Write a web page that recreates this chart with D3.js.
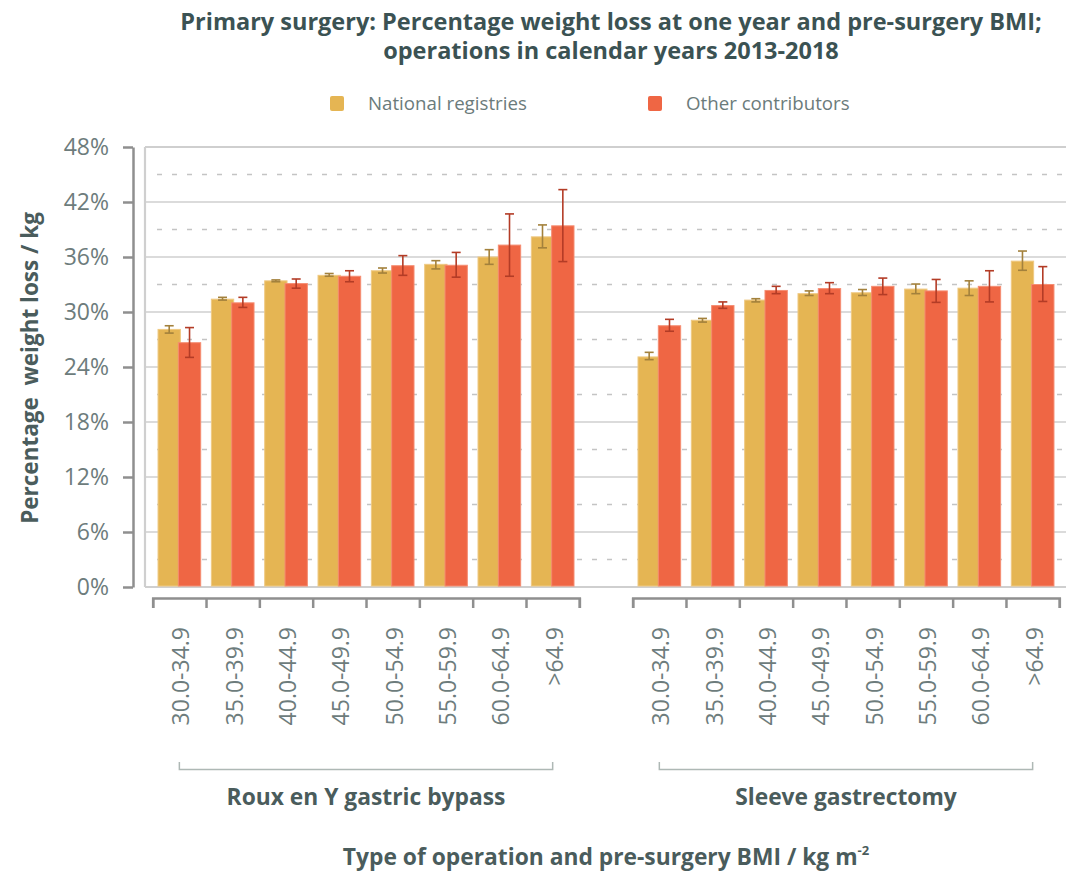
<!DOCTYPE html>
<html>
<head>
<meta charset="utf-8">
<script src="https://cdn.jsdelivr.net/npm/d3@7"></script>
<style>
  body { margin: 0; background: #fff; }
  svg { display: block; font-family: "Open Sans", sans-serif; }
</style>
</head>
<body>
<svg id="chart" width="1066" height="873"></svg>
<script>
// categories
const operations = ["Roux en Y gastric bypass", "Sleeve gastrectomy"];
const bmiBands = ["30.0-34.9", "35.0-39.9", "40.0-44.9", "45.0-49.9", "50.0-54.9", "55.0-59.9", "60.0-64.9", ">64.9"];
const seriesNames = ["National registries", "Other contributors"];

// Roux en Y gastric bypass (% weight loss, with 95% CI)
const rygbNational = [28.1, 31.4, 33.4, 34.0, 34.5, 35.2, 36.0, 38.2];
const rygbNationalLo = [27.7, 31.3, 33.3, 33.9, 34.25, 34.7, 35.2, 37.0];
const rygbNationalHi = [28.5, 31.6, 33.5, 34.2, 34.8, 35.6, 36.8, 39.5];
const rygbOther = [26.65, 31.0, 33.1, 33.9, 35.05, 35.1, 37.3, 39.4];
const rygbOtherLo = [25.05, 30.5, 32.6, 33.3, 34.0, 33.8, 33.9, 35.5];
const rygbOtherHi = [28.3, 31.6, 33.6, 34.5, 36.15, 36.5, 40.7, 43.35];

// Sleeve gastrectomy
const sleeveNational = [25.1, 29.1, 31.3, 32.0, 32.1, 32.5, 32.6, 35.55];
const sleeveNationalLo = [24.8, 28.9, 31.1, 31.8, 31.8, 32.0, 31.8, 34.55];
const sleeveNationalHi = [25.6, 29.3, 31.45, 32.3, 32.45, 33.05, 33.4, 36.65];
const sleeveOther = [28.5, 30.7, 32.35, 32.55, 32.8, 32.3, 32.8, 33.0];
const sleeveOtherLo = [27.9, 30.4, 32.0, 32.0, 31.9, 31.05, 31.1, 31.15];
const sleeveOtherHi = [29.2, 31.1, 32.8, 33.2, 33.7, 33.55, 34.5, 34.95];

const yTicks = [0, 6, 12, 18, 24, 30, 36, 42, 48];
const yMinor = [3, 9, 15, 21, 27, 33, 39, 45];

const colors = ["#e5b553", "#ef6644"];
const strokes = ["#efc983", "#f58d72"];
const errColors = ["#a3813c", "#b33c26"];

// build rows for the bars
const groups = [
  { op: operations[0], vals: [[rygbNational, rygbNationalLo, rygbNationalHi], [rygbOther, rygbOtherLo, rygbOtherHi]] },
  { op: operations[1], vals: [[sleeveNational, sleeveNationalLo, sleeveNationalHi], [sleeveOther, sleeveOtherLo, sleeveOtherHi]] }
];
const slots = [];
groups.forEach((g, gi) => {
  if (gi > 0) slots.push("gap" + gi);
  bmiBands.forEach((b) => slots.push(g.op + "|" + b));
});
const rows = [];
groups.forEach((g) => {
  bmiBands.forEach((b, i) => {
    g.vals.forEach((v, s) => {
      rows.push({ slot: g.op + "|" + b, s: s, value: v[0][i], lo: v[1][i], hi: v[2][i] });
    });
  });
});

const svg = d3.select("#chart");
const plotLeft = 145, plotRight = 1066;

const y = d3.scaleLinear().domain([0, 48]).range([587, 147]);
const x = d3.scaleBand().domain(slots).range([152.7, 1059.3]).paddingInner(0.2).paddingOuter(0.1);
const bw = x.bandwidth();
const barW = bw / 2 + 1;
const barX = (d) => x(d.slot) + (d.s === 0 ? 0 : bw - barW);

// title
svg.append("g")
  .attr("fill", "#3b5253")
  .attr("font-weight", 700)
  .attr("font-size", 23.5)
  .attr("text-anchor", "middle")
  .selectAll("text")
  .data(["Primary surgery: Percentage weight loss at one year and pre-surgery BMI;", "operations in calendar years 2013-2018"])
  .join("text")
  .attr("x", 611)
  .attr("y", (d, i) => 30 + i * 29)
  .text((d) => d);

// legend
const legendX = [330, 648];
const legend = svg.append("g")
  .selectAll("g")
  .data(seriesNames)
  .join("g")
  .attr("transform", (d, i) => `translate(${legendX[i]},96)`);
legend.append("rect")
  .attr("width", 14).attr("height", 15).attr("rx", 2)
  .attr("fill", (d, i) => colors[i]);
legend.append("text")
  .attr("x", 38).attr("y", 14)
  .attr("font-size", 18.7)
  .attr("fill", "#6b7b7b")
  .text((d) => d);

// gridlines
svg.append("g")
  .selectAll("line")
  .data(yMinor)
  .join("line")
  .attr("x1", plotLeft + 12).attr("x2", plotRight)
  .attr("y1", (d) => y(d)).attr("y2", (d) => y(d))
  .attr("stroke", "#c4c4c4")
  .attr("stroke-width", 1.3)
  .attr("stroke-dasharray", "5,10");

svg.append("g")
  .selectAll("line")
  .data(yTicks)
  .join("line")
  .attr("x1", plotLeft).attr("x2", plotRight)
  .attr("y1", (d) => y(d)).attr("y2", (d) => y(d))
  .attr("stroke", "#cfcfcf")
  .attr("stroke-width", (d) => (d === 0 || d === 48 ? 2.2 : 1.5));

svg.append("line")
  .attr("x1", plotLeft).attr("x2", plotLeft)
  .attr("y1", y(48)).attr("y2", y(0))
  .attr("stroke", "#cfcfcf")
  .attr("stroke-width", 2.2);

// bars
svg.append("g")
  .selectAll("rect")
  .data(rows)
  .join("rect")
  .attr("x", barX)
  .attr("y", (d) => y(d.value))
  .attr("width", barW)
  .attr("height", (d) => y(0) - y(d.value) - 1)
  .attr("fill", (d) => colors[d.s])
  .attr("stroke", (d) => strokes[d.s])
  .attr("stroke-width", 1);

// error bars
const err = svg.append("g")
  .selectAll("g")
  .data(rows)
  .join("g")
  .attr("stroke", (d) => errColors[d.s])
  .attr("stroke-width", 1.6)
  .attr("transform", (d) => `translate(${barX(d) + barW / 2},0)`);
err.append("line").attr("y1", (d) => y(d.lo)).attr("y2", (d) => y(d.hi));
err.append("line").attr("x1", -4.5).attr("x2", 4.5).attr("y1", (d) => y(d.hi)).attr("y2", (d) => y(d.hi));
err.append("line").attr("x1", -4.5).attr("x2", 4.5).attr("y1", (d) => y(d.lo)).attr("y2", (d) => y(d.lo));

// y axis
const yAxis = svg.append("g")
  .attr("transform", "translate(133,0)")
  .call(d3.axisLeft(y).tickValues(yTicks).tickFormat((d) => d + "%").tickSize(10).tickSizeOuter(0).tickPadding(14));
yAxis.select(".domain").attr("stroke", "#8f8f8f").attr("stroke-width", 2.5);
yAxis.selectAll(".tick line").attr("stroke", "#8f8f8f").attr("stroke-width", 2.5);
yAxis.selectAll(".tick text")
  .attr("font-family", "Open Sans, sans-serif")
  .attr("font-size", 23)
  .attr("fill", "#6d7c7c");

svg.append("text")
  .attr("transform", "translate(38,368) rotate(-90)")
  .attr("text-anchor", "middle")
  .attr("font-size", 22.5)
  .attr("font-weight", 700)
  .attr("fill", "#4a5c5c")
  .style("white-space", "pre")
  .text("Percentage  weight loss / kg");

// x axis, one per operation
groups.forEach((g) => {
  const names = bmiBands.map((b) => g.op + "|" + b);
  const x0 = x(names[0]) - x.step() * x.paddingInner() / 2;
  const x1 = x(names[names.length - 1]) + bw + x.step() * x.paddingInner() / 2;
  const edge = d3.scaleLinear().domain([0, names.length]).range([x0, x1]);
  const ax = svg.append("g")
    .attr("transform", "translate(0,598)")
    .call(d3.axisBottom(edge).tickValues(d3.range(names.length + 1)).tickFormat("").tickSize(10));
  ax.select(".domain").attr("stroke", "#8f8f8f").attr("stroke-width", 2.5);
  ax.selectAll(".tick line").attr("stroke", "#8f8f8f").attr("stroke-width", 2.5);

  svg.append("g")
    .selectAll("text")
    .data(names)
    .join("text")
    .attr("transform", (d) => `translate(${x(d) + bw / 2 + 2},627) rotate(-90)`)
    .attr("text-anchor", "end")
    .attr("dy", "0.35em")
    .attr("font-size", 23)
    .attr("fill", "#6d7c7c")
    .text((d) => d.split("|")[1]);

  const c0 = x(names[0]) + bw / 2;
  const c1 = x(names[names.length - 1]) + bw / 2;
  svg.append("path")
    .attr("d", `M${c0},762V769.5H${c1}V762`)
    .attr("fill", "none")
    .attr("stroke", "#aeb8b5")
    .attr("stroke-width", 1.5);

  svg.append("text")
    .attr("x", (c0 + c1) / 2)
    .attr("y", 805)
    .attr("text-anchor", "middle")
    .attr("font-size", 22.8)
    .attr("font-weight", 700)
    .attr("fill", "#4a5c5c")
    .text(g.op);
});

const xTitle = svg.append("text")
  .attr("x", 606)
  .attr("y", 865)
  .attr("text-anchor", "middle")
  .attr("font-size", 22.8)
  .attr("font-weight", 700)
  .attr("fill", "#4a5c5c");
xTitle.append("tspan").text("Type of operation and pre-surgery BMI / kg m");
xTitle.append("tspan").attr("dy", -10).attr("font-size", 13).text("-2");
</script>
</body>
</html>
